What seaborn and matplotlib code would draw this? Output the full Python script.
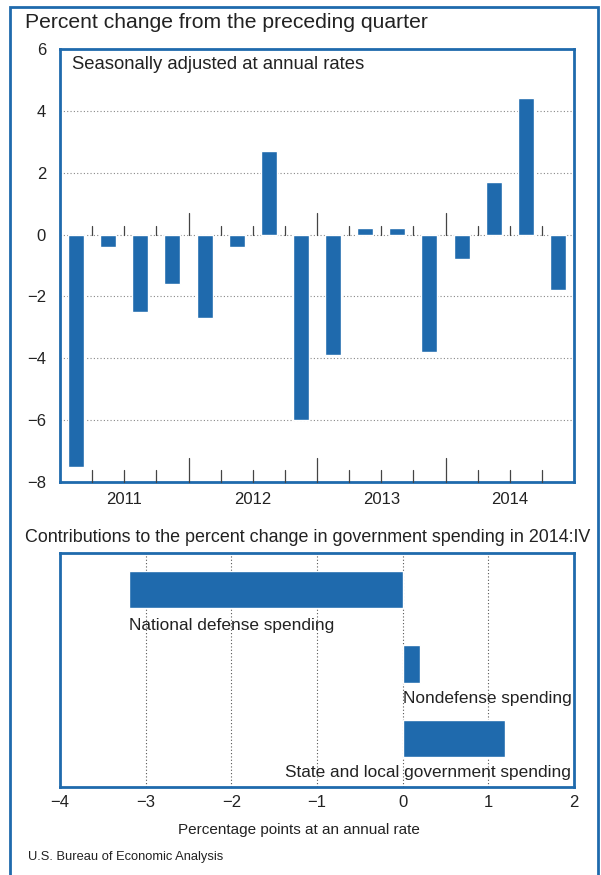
import matplotlib
matplotlib.use("Agg")
import matplotlib.pyplot as plt
import seaborn as sns
import pandas as pd
import numpy as np
from matplotlib.patches import Rectangle
import matplotlib.transforms as mtransforms

sns.set_theme(style="white")
plt.rcParams['font.family'] = ['Liberation Sans', 'DejaVu Sans']

BLUE = '#1f6aad'

# ---- data ----
quarters = ['2011Q1', '2011Q2', '2011Q3', '2011Q4',
            '2012Q1', '2012Q2', '2012Q3', '2012Q4',
            '2013Q1', '2013Q2', '2013Q3', '2013Q4',
            '2014Q1', '2014Q2', '2014Q3', '2014Q4']
pct_change = [-7.5, -0.4, -2.5, -1.6,
              -2.7, -0.4, 2.7, -6.0,
              -3.9, 0.2, 0.2, -3.8,
              -0.8, 1.7, 4.4, -1.8]
years = ['2011', '2012', '2013', '2014']
y_ticks = [-8, -6, -4, -2, 0, 2, 4, 6]

components = ['National defense spending', 'Nondefense spending',
              'State and local government spending']
contributions = [-3.2, 0.2, 1.2]
x_ticks = [-4, -3, -2, -1, 0, 1, 2]

W, H = 601, 875
fig = plt.figure(figsize=(W / 100, H / 100), dpi=100)
fig.patch.set_facecolor('white')

def fx(px):
    return px / W

def fy(py):
    return 1 - py / H

TXT = '#222222'

# outer frame
fig.patches.append(Rectangle((fx(9.5), fy(900)), fx(598) - fx(9.5), fy(7) - fy(900),
                             transform=fig.transFigure, fill=False,
                             edgecolor=BLUE, linewidth=2.0, clip_on=False))

# ---- top chart ----
ax1 = fig.add_axes([fx(60), fy(482), fx(574) - fx(60), fy(49) - fy(482)])
df1 = pd.DataFrame({'quarter': quarters, 'value': pct_change})
sns.barplot(data=df1, x='quarter', y='value', color=BLUE, saturation=1,
            width=0.5, ax=ax1, order=quarters)
n = len(quarters)
ax1.set_xlim(-0.5, n - 0.5)
ax1.set_ylim(-8, 6)
ax1.set_yticks(y_ticks)
ax1.set_yticklabels([f"{v}".replace('-', '\u2212') for v in y_ticks])
ax1.set_xticks([])
ax1.set_xlabel('')
ax1.set_ylabel('')
ax1.tick_params(axis='y', length=0, pad=10, labelsize=12, colors=TXT)
ax1.yaxis.grid(True, linestyle=(0, (1, 2)), color='#888888', linewidth=0.8)
ax1.set_axisbelow(True)
for s in ax1.spines.values():
    s.set_color(BLUE)
    s.set_linewidth(2.0)

# boundary ticks at zero line and bottom
bnds = np.arange(n - 1) + 0.5
trans = mtransforms.blended_transform_factory(ax1.transData, ax1.transAxes)
for i, b in enumerate(bnds):
    long = (i + 1) % 4 == 0
    ax1.plot([b, b], [0, 0.71 if long else 0.29], color='#444444', lw=0.9, zorder=3)
    ax1.plot([b, b], [0, 0.055 if long else 0.028], color='#444444', lw=0.9,
             transform=trans, zorder=3, clip_on=False)
year_trans = mtransforms.offset_copy(ax1.transData, fig=fig, y=-7, units='points')
for k, yr in enumerate(years):
    ax1.text(4 * k + 1.5, -8, yr, transform=year_trans, ha='center', va='top',
             fontsize=12, color=TXT)
ax1.text((72 - 60) / (574 - 60), 0.965, 'Seasonally adjusted at annual rates',
         transform=ax1.transAxes, ha='left', va='center', fontsize=13.3, color=TXT)

fig.text(fx(25), fy(22), 'Percent change from the preceding quarter',
         ha='left', va='center', fontsize=15.2, color=TXT)

# ---- bottom chart ----
ax2 = fig.add_axes([fx(60), fy(787), fx(574) - fx(60), fy(553) - fy(787)])
df2 = pd.DataFrame({'component': components, 'value': contributions})
sns.barplot(data=df2, x='value', y='component', orient='h', color=BLUE,
            saturation=1, width=0.5, ax=ax2, order=components)
ax2.set_xlim(-4, 2)
ax2.set_ylim(2.65, -0.49)
ax2.set_xticks(x_ticks)
ax2.set_xticklabels([f"{v}".replace('-', '\u2212') for v in x_ticks])
ax2.set_yticks([])
ax2.set_xlabel('')
ax2.set_ylabel('')
ax2.tick_params(axis='x', length=0, pad=6, labelsize=12, colors=TXT)
ax2.xaxis.grid(True, linestyle=(0, (1, 2)), color='#555555', linewidth=0.8)
ax2.set_axisbelow(True)
for s in ax2.spines.values():
    s.set_color(BLUE)
    s.set_linewidth(2.0)

label_off = [0.48, 0.46, 0.46]
LFS = 12.4
for i, (c, v) in enumerate(zip(components, contributions)):
    if i == 0:
        ax2.text(v, i + label_off[i], c, ha='left', va='center', fontsize=LFS, color=TXT)
    elif i == 1:
        ax2.text(0, i + label_off[i], c, ha='left', va='center', fontsize=LFS, color=TXT)
    else:
        ax2.text(1.96, i + label_off[i], c, ha='right', va='center', fontsize=LFS, color=TXT)

fig.text(fx(25), fy(537), 'Contributions to the percent change in government spending in 2014:IV',
         ha='left', va='center', fontsize=12.85, color=TXT)
fig.text(fx(299), fy(830), 'Percentage points at an annual rate',
         ha='center', va='center', fontsize=11, color=TXT)
fig.text(fx(28), fy(857), 'U.S. Bureau of Economic Analysis',
         ha='left', va='center', fontsize=9.3, color=TXT,
         family=['Liberation Sans Narrow', 'Liberation Sans', 'DejaVu Sans'])

fig.savefig('out.png', dpi=100, facecolor='white')
